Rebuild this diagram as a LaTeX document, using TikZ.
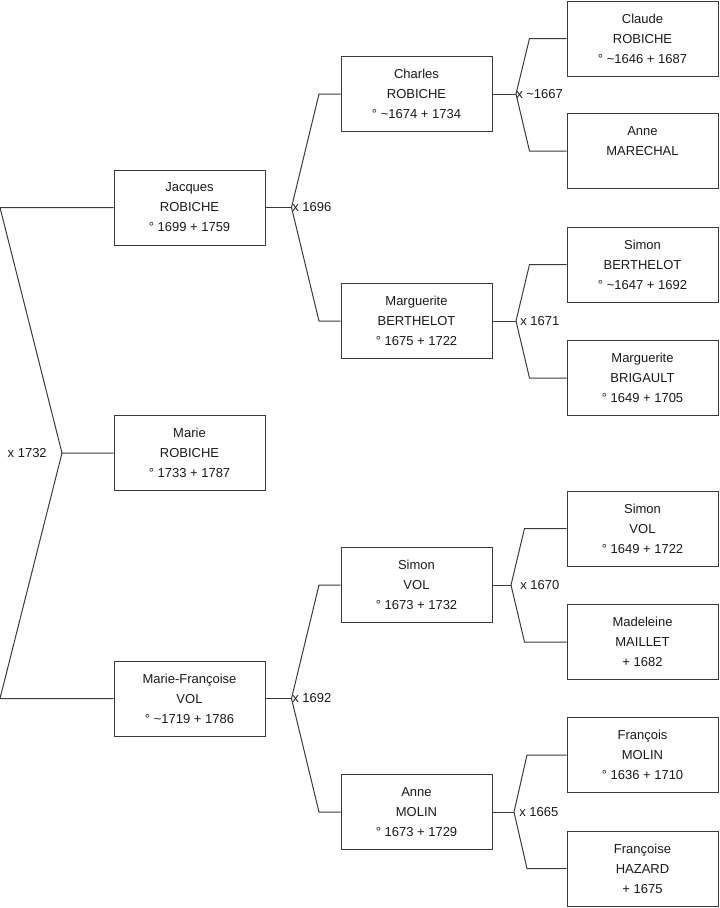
\documentclass[tikz,border=0pt]{standalone}
\usepackage{fontspec}
\setmainfont{Liberation Sans}
\usetikzlibrary{calc}
\definecolor{treeInk}{HTML}{1A1A1A}
\definecolor{treeLine}{HTML}{3A3A3A}

\begin{document}
\begin{tikzpicture}[x=0.75pt,y=-0.75pt,
  person/.style={draw=treeLine,fill=white,line width=0.75pt,minimum width=113.25pt,minimum height=56.25pt,align=center,inner sep=0pt,text=treeInk,font=\fontsize{9.75}{15}\selectfont},
  union/.style={font=\fontsize{9.75}{15}\selectfont,text=treeInk,inner sep=0pt},
  link/.style={draw=treeLine,line width=0.75pt}
]
  \useasboundingbox (0,0) rectangle (719,908);

  \node[person] (marie) at (189.5,453) {Marie\\ROBICHE\\° 1733 + 1787};
  \node[person] (jacques) at (189.5,207.5) {Jacques\\ROBICHE\\° 1699 + 1759};
  \node[person] (mfrancoise) at (189.5,698.5) {Marie-Françoise\\VOL\\° \textasciitilde1719 + 1786};

  \node[person] (charles) at (416.5,94) {Charles\\ROBICHE\\° \textasciitilde1674 + 1734};
  \node[person] (marguerite) at (416.5,321) {Marguerite\\BERTHELOT\\° 1675 + 1722};
  \node[person] (simon) at (416.5,585) {Simon\\VOL\\° 1673 + 1732};
  \node[person] (anne) at (416.5,812) {Anne\\MOLIN\\° 1673 + 1729};

  \node[person] (claude) at (642.5,38.5) {Claude\\ROBICHE\\° \textasciitilde1646 + 1687};
  \node[person] (annemar) at (642.5,151) {Anne\\MARECHAL\\\phantom{0}};
  \node[person] (simonb) at (642.5,264.5) {Simon\\BERTHELOT\\° \textasciitilde1647 + 1692};
  \node[person] (margbr) at (642.5,378) {Marguerite\\BRIGAULT\\° 1649 + 1705};
  \node[person] (simonv) at (642.5,528.5) {Simon\\VOL\\° 1649 + 1722};
  \node[person] (madeleine) at (642.5,642) {Madeleine\\MAILLET\\+ 1682};
  \node[person] (francois) at (642.5,755) {François\\MOLIN\\° 1636 + 1710};
  \node[person] (francoise) at (642.5,868.5) {Françoise\\HAZARD\\+ 1675};

  \coordinate (rootj) at (62,0);
  \coordinate (rootb) at (0,0);
  \coordinate (j-marie) at (marie.west -| rootj);
  \draw[link] (marie.west) -- (j-marie) -- (jacques.west -| rootb) -- (jacques.west);
  \draw[link] (j-marie) -- (mfrancoise.west -| rootb) -- (mfrancoise.west);
  \node[union,anchor=east] (u-marie) at ([xshift=-11.25pt]j-marie) {x 1732};

  \foreach \kid/\jx/\bx/\dad/\mum/\lx/\lab in {
      jacques/291.5/319/charles/marguerite/292/{x 1696},
      mfrancoise/291.5/319/simon/anne/292/{x 1692},
      charles/516/529.5/claude/annemar/516/{x \textasciitilde1667},
      marguerite/516/529.5/simonb/margbr/520/{x 1671},
      simon/511/524.5/simonv/madeleine/520/{x 1670},
      anne/514/527/francois/francoise/519/{x 1665}} {
    \coordinate (jx) at (\jx,0);
    \coordinate (bx) at (\bx,0);
    \coordinate (lx) at (\lx,0);
    \coordinate (j-\kid) at (\kid.east -| jx);
    \draw[link] (\kid.east) -- (j-\kid);
    \draw[link] (j-\kid) -- (\dad.west -| bx) -- (\dad.west);
    \draw[link] (j-\kid) -- (\mum.west -| bx) -- (\mum.west);
    \node[union,anchor=west] (u-\kid) at (j-\kid -| lx) {\lab};
  }
\end{tikzpicture}
\end{document}
